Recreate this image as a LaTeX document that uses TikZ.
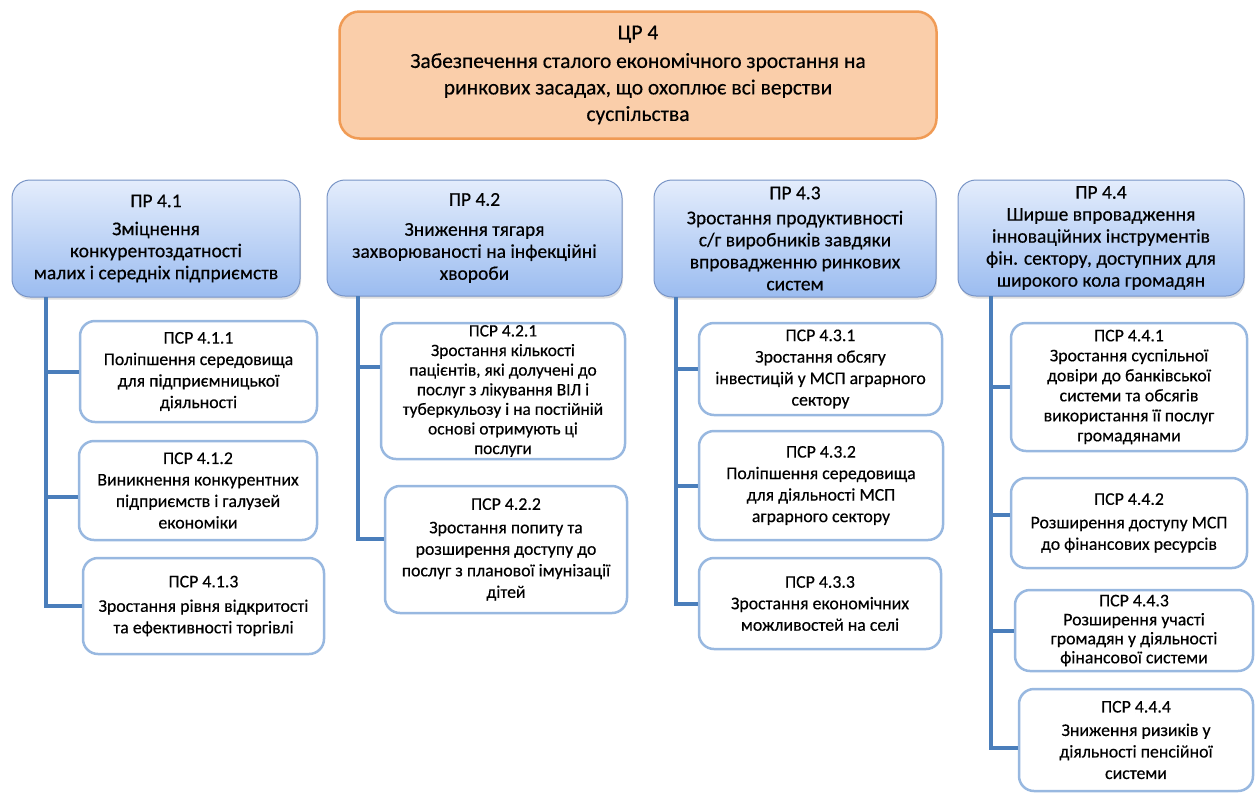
\documentclass[tikz,border=0pt]{standalone}
\usepackage{fontspec}
\setmainfont{Carlito}
\newfontfamily\heavyfont{Carlito}[FakeBold=0.35]
\usetikzlibrary{shadows}
\definecolor{goalfill}{RGB}{250,206,170}
\definecolor{goalline}{RGB}{240,155,85}
\definecolor{prtop}{RGB}{228,237,252}
\definecolor{prbot}{RGB}{155,188,240}
\definecolor{prline}{RGB}{120,148,198}
\definecolor{psrline}{RGB}{152,184,224}
\definecolor{connc}{RGB}{74,126,187}
\tikzset{
  goalbox/.style={draw=goalline, line width=2.5pt, fill=goalfill, rounded corners=20pt, inner sep=0pt, align=center, font=\heavyfont\fontsize{21.5}{26.5}\selectfont},
  prbox/.style={draw=prline, line width=1pt, top color=prtop, bottom color=prbot, rounded corners=18pt, inner sep=0pt, align=center, font=\heavyfont\fontsize{19.5}{22}\selectfont, drop shadow={opacity=0.25, shadow xshift=1pt, shadow yshift=-2.5pt}},
  psrbox/.style={draw=psrline, line width=2.5pt, fill=white, rounded corners=15pt, inner sep=0pt, align=center, font=\heavyfont\fontsize{17.8}{21.5}\selectfont},
  conn/.style={draw=connc, line width=4pt}
}
\begin{document}
\begin{tikzpicture}[x=1pt,y=-1pt]
\useasboundingbox (0,0) rectangle (1256,796);
\node[goalbox, minimum width=597pt, minimum height=127pt] (goal) at (638,75) {ЦР 4\\[2pt]Забезпечення сталого економічного зростання на\\ринкових засадах, що охоплює всі верстви\\суспільства};

\node[prbox, minimum width=288pt, minimum height=117pt] (pr1) at (156,238.5) {ПР 4.1\\[6pt]Зміцнення\\конкурентоздатності\\малих і середніх підприємств};
\node[prbox, minimum width=295pt, minimum height=116pt] (pr2) at (474.5,238) {ПР 4.2\\[8pt]Зниження тягаря\\захворюваності на інфекційні\\хвороби};
\node[prbox, minimum width=282pt, minimum height=117pt] (pr3) at (795,238.5) {ПР 4.3\\[3pt]Зростання продуктивності\\с/г виробників завдяки\\впровадженню ринкових\\систем};
\node[prbox, minimum width=286pt, minimum height=116pt] (pr4) at (1101,238) {ПР 4.4\\Ширше впровадження\\інноваційних інструментів\\фін. сектору, доступних для\\широкого кола громадян};

\node[psrbox, minimum width=237pt, minimum height=101pt] (c11) at (198.5,371.5) {ПСР 4.1.1\\Поліпшення середовища\\для підприємницької\\діяльності};
\node[psrbox, minimum width=238pt, minimum height=99pt] (c12) at (198,490.5) {ПСР 4.1.2\\Виникнення конкурентних\\підприємств і галузей\\економіки};
\node[psrbox, minimum width=241pt, minimum height=96pt] (c13) at (203.5,606) {ПСР 4.1.3\\[3pt]Зростання рівня відкритості\\та ефективності торгівлі};

\node[psrbox, minimum width=244pt, minimum height=136pt, font=\heavyfont\fontsize{17.4}{19.6}\selectfont] (c21) at (503,391) {ПСР 4.2.1\\Зростання кількості\\пацієнтів, які долучені до\\послуг з лікування ВІЛ і\\туберкульозу і на постійній\\основі отримують ці\\послуги};
\node[psrbox, minimum width=242pt, minimum height=127pt] (c22) at (506,549.5) {ПСР 4.2.2\\[2pt]Зростання попиту та\\розширення доступу до\\послуг з планової імунізації\\дітей};

\node[psrbox, minimum width=243pt, minimum height=92pt] (c31) at (820.5,369) {ПСР 4.3.1\\Зростання обсягу\\інвестицій у МСП аграрного\\сектору};
\node[psrbox, minimum width=244pt, minimum height=109pt] (c32) at (821,485.5) {ПСР 4.3.2\\Поліпшення середовища\\для діяльності МСП\\аграрного сектору};
\node[psrbox, minimum width=242pt, minimum height=91pt] (c33) at (820,603.5) {ПСР 4.3.3\\Зростання економічних\\можливостей на селі};

\node[psrbox, minimum width=236pt, minimum height=128pt, font=\heavyfont\fontsize{17.8}{20}\selectfont] (c41) at (1129,387) {ПСР 4.4.1\\Зростання суспільної\\довіри до банківської\\системи та обсягів\\використання її послуг\\громадянами};
\node[psrbox, minimum width=236pt, minimum height=90pt] (c42) at (1129,523) {ПСР 4.4.2\\[2pt]Розширення доступу МСП\\до фінансових ресурсів};
\node[psrbox, minimum width=238pt, minimum height=81pt, font=\heavyfont\fontsize{17.8}{19}\selectfont] (c43) at (1134,630.5) {ПСР 4.4.3\\Розширення участі\\громадян у діяльності\\фінансової системи};
\node[psrbox, minimum width=234pt, minimum height=102pt] (c44) at (1136,740) {ПСР 4.4.4\\[2pt]Зниження ризиків у\\діяльності пенсійної\\системи};

\coordinate (t1) at (46,297);
\coordinate (t2) at (358,296);
\coordinate (t3) at (676,297);
\coordinate (t4) at (991,296);

\draw[conn] (t1) |- (c13.west);
\draw[conn] (t1 |- c11.west) -- (c11.west);
\draw[conn] (t1 |- c12.183) -- (c12.183);

\draw[conn] (t2) |- (c22.175);
\draw[conn] (t2 |- c21.169) -- (c21.169);

\draw[conn] (t3) |- (c33.west);
\draw[conn] (t3 |- c31.west) -- (c31.west);
\draw[conn] (t3 |- c32.west) -- (c32.west);

\draw[conn] (t4) |- (c44.184);
\draw[conn] (t4 |- c41.west) -- (c41.west);
\draw[conn] (t4 |- c42.176) -- (c42.176);
\draw[conn] (t4 |- c43.west) -- (c43.west);
\end{tikzpicture}
\end{document}
